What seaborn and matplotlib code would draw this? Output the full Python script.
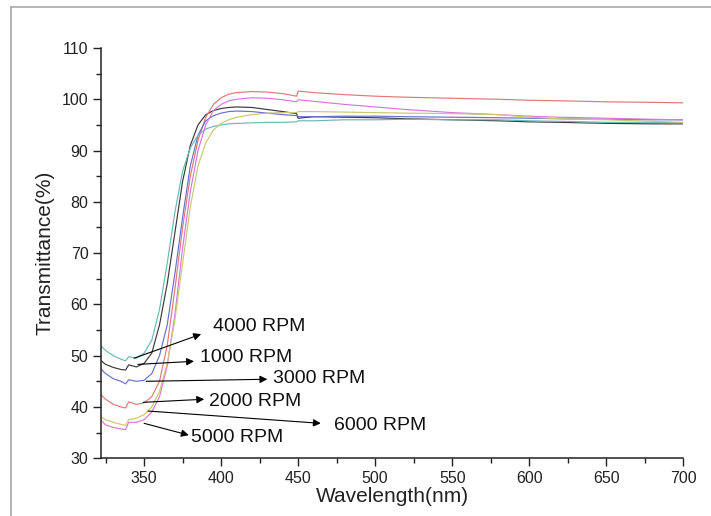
import numpy as np
import pandas as pd
import matplotlib
matplotlib.use("Agg")
import matplotlib.pyplot as plt
from matplotlib.lines import Line2D
from matplotlib.ticker import MultipleLocator
import seaborn as sns

wavelength = [320, 325, 330, 335, 338, 340, 345, 350, 355, 360, 365, 370, 375, 380,
              385, 390, 395, 400, 405, 410, 420, 430, 440, 449, 450, 460, 480, 500,
              520, 550, 580, 600, 620, 650, 680, 700]

t_1000 = [49.5, 48.3, 47.7, 47.3, 47.2, 48.2, 47.8, 48.5, 50.5, 56.0, 64.0, 74.0, 84.0, 91.0,
          95.0, 97.0, 97.8, 98.2, 98.4, 98.5, 98.4, 98.0, 97.6, 97.2, 96.3, 96.6, 96.5, 96.4,
          96.2, 96.0, 95.8, 95.6, 95.5, 95.3, 95.2, 95.2]
t_2000 = [43.0, 41.5, 40.5, 40.0, 39.8, 41.0, 40.5, 40.8, 42.0, 45.0, 52.0, 63.0, 75.0, 85.0,
          92.0, 96.5, 99.0, 100.3, 101.0, 101.3, 101.5, 101.4, 101.1, 100.6, 101.6, 101.3, 100.9, 100.6,
          100.4, 100.2, 100.0, 99.8, 99.7, 99.5, 99.4, 99.3]
t_3000 = [48.0, 46.5, 45.5, 45.0, 44.5, 45.3, 45.0, 45.2, 46.5, 50.0, 56.0, 66.0, 77.0, 87.0,
          93.0, 95.8, 96.8, 97.3, 97.6, 97.7, 97.6, 97.3, 97.0, 96.8, 96.6, 96.6, 96.7, 96.7,
          96.6, 96.5, 96.4, 96.3, 96.2, 96.1, 96.0, 96.0]
t_4000 = [52.5, 51.0, 50.0, 49.3, 49.0, 49.8, 49.5, 50.5, 53.0, 59.0, 68.0, 78.0, 86.0, 90.5,
          93.0, 94.2, 94.7, 95.0, 95.2, 95.3, 95.4, 95.5, 95.5, 95.6, 95.8, 95.8, 96.0, 96.0,
          96.1, 96.0, 96.0, 95.8, 95.7, 95.5, 95.5, 95.4]
t_5000 = [38.0, 36.5, 36.0, 35.7, 35.6, 37.0, 37.0, 37.5, 39.0, 42.0, 48.0, 58.0, 71.0, 82.0,
          90.0, 95.0, 97.8, 99.0, 99.7, 100.0, 100.3, 100.2, 99.9, 99.5, 99.9, 99.6, 99.0, 98.5,
          98.0, 97.4, 97.0, 96.7, 96.5, 96.3, 96.1, 96.0]
t_6000 = [38.5, 37.5, 37.0, 36.6, 36.4, 37.5, 37.8, 38.5, 40.0, 43.0, 48.5, 57.0, 68.0, 79.0,
          87.0, 91.5, 94.0, 95.3, 96.0, 96.5, 97.0, 97.3, 97.4, 97.4, 97.6, 97.6, 97.5, 97.4,
          97.3, 97.2, 97.0, 96.5, 96.2, 96.0, 95.7, 95.5]

series_names = ["1000 RPM", "2000 RPM", "3000 RPM", "4000 RPM", "5000 RPM", "6000 RPM"]
series_vals = [t_1000, t_2000, t_3000, t_4000, t_5000, t_6000]
colors = ["#3a3a3a", "#e07878", "#6a70c8", "#6ab8b8", "#d878d8", "#c8c870"]

# annotation: label, text position (x, y), arrow tail on curve (x, y), arrow head (x, y)
ann_labels = ["4000 RPM", "1000 RPM", "3000 RPM", "2000 RPM", "6000 RPM", "5000 RPM"]
ann_text = [(394.5, 55.6), (386.5, 49.7), (433.5, 45.6), (392.0, 41.1), (473.0, 36.4), (380.5, 34.1)]
ann_tail = [(343.5, 49.5), (346.0, 48.3), (351.3, 45.0), (349.4, 40.9), (352.6, 39.2), (350.0, 36.8)]
ann_head = [(387.0, 54.2), (382.4, 48.9), (430.0, 45.4), (389.0, 41.5), (464.7, 36.8), (379.0, 34.5)]

rows = []
for name, vals in zip(series_names, series_vals):
    for w, v in zip(wavelength, vals):
        rows.append({"Wavelength": w, "T": v, "Sample": name})
df = pd.DataFrame(rows)

sns.set_theme(style="ticks")
plt.rcParams["font.family"] = ["Liberation Sans", "DejaVu Sans"]

fig = plt.figure(figsize=(7.11, 5.16), dpi=100)
ax = fig.add_axes([0.142, 0.112, 0.819, 0.795])

sns.lineplot(data=df, x="Wavelength", y="T", hue="Sample", palette=dict(zip(series_names, colors)),
             ax=ax, linewidth=0.85, legend=False)

for lab, tp, tail, head in zip(ann_labels, ann_text, ann_tail, ann_head):
    ax.annotate("", xy=head, xytext=tail,
                arrowprops=dict(arrowstyle="-|>", color="black", lw=0.8, mutation_scale=11,
                                shrinkA=0, shrinkB=0))
    ax.text(tp[0], tp[1], lab, fontsize=14, va="center", ha="left", color="#111111")

ax.set_xlim(322, 700)
ax.set_ylim(30, 110)
ax.xaxis.set_major_locator(MultipleLocator(50))
ax.xaxis.set_minor_locator(MultipleLocator(25))
ax.yaxis.set_major_locator(MultipleLocator(10))
ax.yaxis.set_minor_locator(MultipleLocator(5))
ax.set_xticks(range(350, 701, 50))
ax.tick_params(which="major", direction="out", length=6, width=1, color="#222222", labelsize=11.5,
               labelcolor="#222222", pad=3)
ax.tick_params(which="minor", direction="out", length=3.5, width=1, color="#222222")
for s in ["top", "right"]:
    ax.spines[s].set_visible(False)
for s in ["left", "bottom"]:
    ax.spines[s].set_color("#222222")
    ax.spines[s].set_linewidth(1.1)
ax.set_xlabel("Wavelength(nm)", fontsize=15, color="#222222", labelpad=1)
ax.set_ylabel("Transmittance(%)", fontsize=15, color="#222222", labelpad=5)

# outer gray frame
fig.add_artist(Line2D([10.5 / 711, 10.5 / 711], [0, 1 - 7 / 516], transform=fig.transFigure,
                      color="#a8a8a8", lw=1.2))
fig.add_artist(Line2D([10.5 / 711, 1], [1 - 7 / 516, 1 - 7 / 516], transform=fig.transFigure,
                      color="#a8a8a8", lw=1.2))

fig.savefig("out.png", dpi=100)
